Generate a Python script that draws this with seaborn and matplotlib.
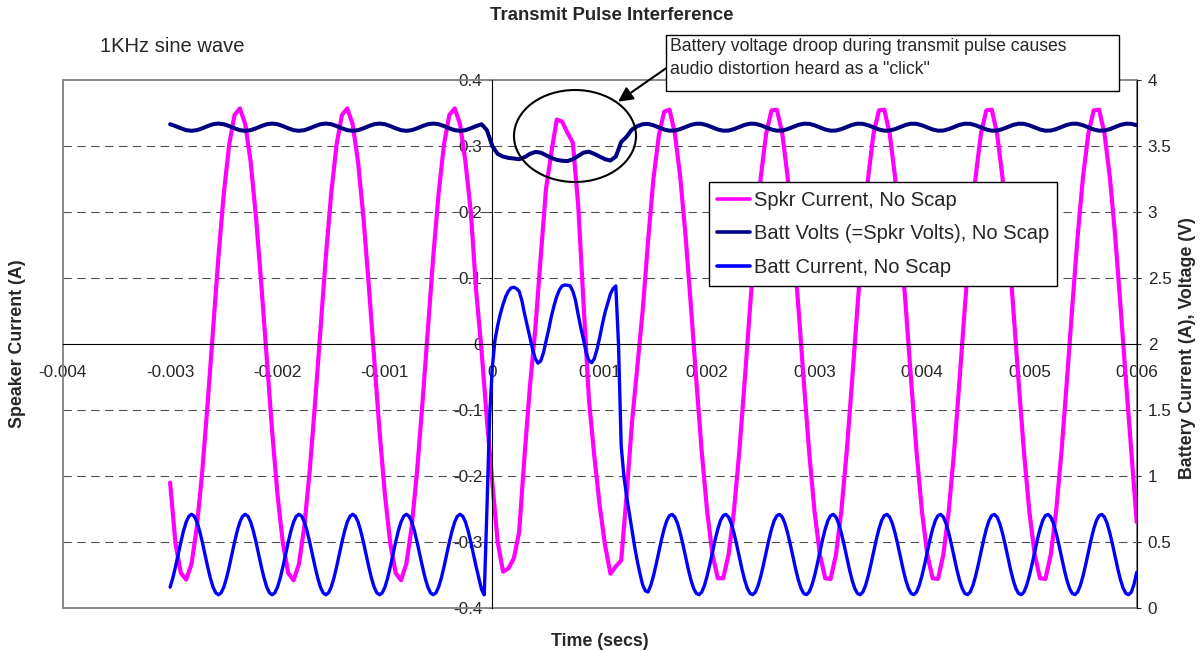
"""
Transmit Pulse Interference - speaker current, battery volts and battery current
around a transmit pulse (1 kHz sine wave playing), no supercap.
"""

import numpy as np
import matplotlib
matplotlib.use("Agg")
import matplotlib.pyplot as plt
from matplotlib.patches import Ellipse, Rectangle
from matplotlib.lines import Line2D
import seaborn as sns

sns.set_style("white")
plt.rcParams["font.family"] = ["Liberation Sans", "DejaVu Sans"]

T_START, T_END = -0.003, 0.006

# speaker current (A), sampled every 50 us from -0.003 s
spkr_current = [
    -0.21, -0.302, -0.347, -0.357, -0.333, -0.276, -0.192, -0.089, 0.022, 0.132,
    0.228, 0.302, 0.347, 0.357, 0.333, 0.276, 0.192, 0.089, -0.022, -0.132,
    -0.228, -0.302, -0.347, -0.358, -0.333, -0.276, -0.192, -0.089, 0.022, 0.132,
    0.228, 0.302, 0.347, 0.357, 0.333, 0.276, 0.192, 0.089, -0.022, -0.132,
    -0.228, -0.302, -0.347, -0.358, -0.333, -0.276, -0.192, -0.089, 0.022, 0.132,
    0.228, 0.302, 0.347, 0.357, 0.333, 0.276, 0.2, 0.08,
    -0.01, -0.115, -0.21, -0.3, -0.345, -0.34, -0.325, -0.285, -0.17, -0.065,
    0.022, 0.13, 0.235, 0.29, 0.34, 0.337, 0.32, 0.305, 0.21, 0.06,
    -0.085, -0.17, -0.245, -0.305, -0.348, -0.337, -0.328, -0.23, -0.12, -0.035,
    0.05, 0.155, 0.25, 0.315, 0.352, 0.355,
    0.319, 0.253, 0.163, 0.056, -0.056, -0.163, -0.253, -0.319, -0.355, -0.355,
    -0.319, -0.253, -0.163, -0.056,
    0.056, 0.163, 0.253, 0.319, 0.354, 0.355, 0.319, 0.253, 0.163, 0.056,
    -0.056, -0.163, -0.253, -0.319, -0.355, -0.356, -0.319, -0.253, -0.163, -0.056,
    0.056, 0.163, 0.253, 0.319, 0.354, 0.355, 0.319, 0.253, 0.163, 0.056,
    -0.056, -0.163, -0.253, -0.319, -0.355, -0.356, -0.319, -0.253, -0.163, -0.056,
    0.056, 0.163, 0.253, 0.319, 0.354, 0.355, 0.319, 0.253, 0.163, 0.056,
    -0.056, -0.163, -0.253, -0.319, -0.355, -0.356, -0.319, -0.253, -0.163, -0.056,
    0.056, 0.163, 0.253, 0.319, 0.354, 0.355, 0.319, 0.253, 0.163, 0.056,
    -0.056, -0.163, -0.27,
]

# battery volts (V), sampled every 50 us from -0.003 s
batt_volts = [
    3.665, 3.651, 3.634, 3.620, 3.615, 3.620, 3.634, 3.651, 3.665, 3.670,
    3.665, 3.651, 3.634, 3.620, 3.615, 3.620, 3.634, 3.651, 3.665, 3.670,
    3.665, 3.651, 3.634, 3.620, 3.615, 3.620, 3.634, 3.651, 3.665, 3.670,
    3.665, 3.651, 3.634, 3.620, 3.615, 3.620, 3.634, 3.651, 3.665, 3.670,
    3.665, 3.651, 3.634, 3.620, 3.615, 3.620, 3.634, 3.651, 3.665, 3.670,
    3.665, 3.651, 3.634, 3.620, 3.615, 3.620, 3.634, 3.651, 3.665,
    3.62, 3.50, 3.44, 3.42, 3.41, 3.405, 3.40, 3.415, 3.44, 3.455,
    3.45, 3.43, 3.41, 3.395, 3.388, 3.386, 3.40, 3.425, 3.45, 3.457,
    3.44, 3.42, 3.40, 3.39, 3.42, 3.53, 3.57, 3.625, 3.65, 3.665,
    3.668, 3.657, 3.641, 3.625, 3.616, 3.617, 3.628, 3.644, 3.660, 3.669,
    3.668, 3.657, 3.641, 3.625, 3.616, 3.617, 3.628, 3.644, 3.660, 3.669,
    3.668, 3.657, 3.641, 3.625, 3.616, 3.617, 3.628, 3.644, 3.660, 3.669,
    3.668, 3.657, 3.641, 3.625, 3.616, 3.617, 3.628, 3.644, 3.660, 3.669,
    3.668, 3.657, 3.641, 3.625, 3.616, 3.617, 3.628, 3.644, 3.660, 3.669,
    3.668, 3.657, 3.641, 3.625, 3.616, 3.617, 3.628, 3.644, 3.660, 3.669,
    3.668, 3.657, 3.641, 3.625, 3.616, 3.617, 3.628, 3.644, 3.660, 3.669,
    3.668, 3.657, 3.641, 3.625, 3.616, 3.617, 3.628, 3.644, 3.660, 3.669,
    3.668, 3.657, 3.641, 3.625, 3.616, 3.617, 3.628, 3.644, 3.660, 3.669,
    3.668, 3.657,
]

# battery current (A), sampled every 25 us from -0.003 s
batt_current = [
    0.158, 0.226, 0.311, 0.405, 0.499, 0.584, 0.652, 0.695, 0.710, 0.695,
    0.652, 0.584, 0.499, 0.405, 0.311, 0.226, 0.158, 0.115, 0.100, 0.115,
    0.158, 0.226, 0.311, 0.405, 0.499, 0.584, 0.652, 0.695, 0.710, 0.695,
    0.652, 0.584, 0.499, 0.405, 0.311, 0.226, 0.158, 0.115, 0.100, 0.115,
    0.158, 0.226, 0.311, 0.405, 0.499, 0.584, 0.652, 0.695, 0.710, 0.695,
    0.652, 0.584, 0.499, 0.405, 0.311, 0.226, 0.158, 0.115, 0.100, 0.115,
    0.158, 0.226, 0.311, 0.405, 0.499, 0.584, 0.652, 0.695, 0.710, 0.695,
    0.652, 0.584, 0.499, 0.405, 0.311, 0.226, 0.158, 0.115, 0.100, 0.115,
    0.158, 0.226, 0.311, 0.405, 0.499, 0.584, 0.652, 0.695, 0.710, 0.695,
    0.652, 0.584, 0.499, 0.405, 0.311, 0.226, 0.158, 0.115, 0.100, 0.115,
    0.158, 0.226, 0.311, 0.405, 0.499, 0.584, 0.652, 0.695, 0.710, 0.695,
    0.652, 0.584, 0.499, 0.405, 0.311, 0.226, 0.14,
    0.10, 0.75, 1.45, 1.82, 2.03, 2.14, 2.23, 2.30, 2.36, 2.40,
    2.425, 2.43, 2.42, 2.40, 2.33, 2.23, 2.14, 2.05, 1.96, 1.89,
    1.855, 1.87, 1.93, 2.02, 2.11, 2.21, 2.29, 2.36, 2.41, 2.44,
    2.447, 2.445, 2.44, 2.40, 2.33, 2.22, 2.12, 2.03, 1.93, 1.875,
    1.858, 1.89, 1.96, 2.05, 2.15, 2.24, 2.31, 2.38, 2.42, 2.44,
    2.0, 1.23, 1.0, 0.85, 0.72, 0.59, 0.465, 0.355, 0.26, 0.175, 0.13,
    0.121, 0.170, 0.242, 0.329, 0.424, 0.517, 0.599, 0.663, 0.700, 0.709,
    0.689, 0.640, 0.568, 0.481, 0.386, 0.293, 0.211, 0.148, 0.110, 0.101,
    0.121, 0.170, 0.242, 0.329, 0.424, 0.517, 0.599, 0.663, 0.700, 0.709,
    0.689, 0.640, 0.568, 0.481, 0.386, 0.293, 0.211, 0.148, 0.110, 0.101,
    0.121, 0.170, 0.242, 0.329, 0.424, 0.517, 0.599, 0.663, 0.700, 0.709,
    0.689, 0.640, 0.568, 0.481, 0.386, 0.293, 0.211, 0.148, 0.110, 0.101,
    0.121, 0.170, 0.242, 0.329, 0.424, 0.517, 0.599, 0.663, 0.700, 0.709,
    0.689, 0.640, 0.568, 0.481, 0.386, 0.293, 0.211, 0.148, 0.110, 0.101,
    0.121, 0.170, 0.242, 0.329, 0.424, 0.517, 0.599, 0.663, 0.700, 0.709,
    0.689, 0.640, 0.568, 0.481, 0.386, 0.293, 0.211, 0.148, 0.110, 0.101,
    0.121, 0.170, 0.242, 0.329, 0.424, 0.517, 0.599, 0.663, 0.700, 0.709,
    0.689, 0.640, 0.568, 0.481, 0.386, 0.293, 0.211, 0.148, 0.110, 0.101,
    0.121, 0.170, 0.242, 0.329, 0.424, 0.517, 0.599, 0.663, 0.700, 0.709,
    0.689, 0.640, 0.568, 0.481, 0.386, 0.293, 0.211, 0.148, 0.110, 0.101,
    0.121, 0.170, 0.242, 0.329, 0.424, 0.517, 0.599, 0.663, 0.700, 0.709,
    0.689, 0.640, 0.568, 0.481, 0.386, 0.293, 0.211, 0.148, 0.110, 0.101,
    0.121, 0.170, 0.242, 0.329, 0.424, 0.517, 0.599, 0.663, 0.700, 0.709,
    0.689, 0.640, 0.568, 0.481, 0.386, 0.293, 0.211, 0.148, 0.110, 0.101,
    0.121, 0.18, 0.27,
]

t_coarse = np.linspace(T_START, T_END, len(spkr_current))
t_fine = np.linspace(T_START, T_END, len(batt_current))

series_labels = [
    "Spkr Current, No Scap",
    "Batt Volts (=Spkr Volts), No Scap",
    "Batt Current, No Scap",
]
x_ticks = [-0.004, -0.003, -0.002, -0.001, 0, 0.001, 0.002, 0.003, 0.004, 0.005, 0.006]
x_tick_labels = ["-0.004", "-0.003", "-0.002", "-0.001", "0", "0.001",
                 "0.002", "0.003", "0.004", "0.005", "0.006"]
left_ticks = [-0.4, -0.3, -0.2, -0.1, 0, 0.1, 0.2, 0.3, 0.4]
left_tick_labels = ["-0.4", "-0.3", "-0.2", "-0.1", "0", "0.1", "0.2", "0.3", "0.4"]
right_ticks = [0, 0.5, 1, 1.5, 2, 2.5, 3, 3.5, 4]
right_tick_labels = ["0", "0.5", "1", "1.5", "2", "2.5", "3", "3.5", "4"]

PINK, NAVY, BLUE = "#FF00FF", "#000080", "#0000FF"

# ── Figure ──
W, H = 1202, 651
fig = plt.figure(figsize=(W / 100, H / 100), dpi=100)
ax = fig.add_axes([62.7 / W, 1 - 608 / H, 1074 / W, 528 / H])
ax2 = ax.twinx()

sns.lineplot(x=t_coarse, y=spkr_current, ax=ax, color=PINK, linewidth=3.0,
             estimator=None, sort=False)
sns.lineplot(x=t_coarse, y=batt_volts, ax=ax2, color=NAVY, linewidth=2.9,
             estimator=None, sort=False)
sns.lineplot(x=t_fine, y=batt_current, ax=ax2, color=BLUE, linewidth=2.4,
             estimator=None, sort=False)

ax.set_xlim(-0.004, 0.006)
ax.set_ylim(-0.4, 0.4)
ax2.set_ylim(0, 4)
ax.set_xlabel("")
ax.set_ylabel("")
ax2.set_ylabel("")

# dashed gridlines
for y in [-0.3, -0.2, -0.1, 0.1, 0.2, 0.3]:
    ax.axhline(y, color="#505050", lw=0.8, linestyle=(0, (7.5, 5)), zorder=0.6)

# axes cross at zero, grey plot-area border
ax.set_axisbelow(True)
ax.spines["left"].set_position(("data", 0))
ax.spines["bottom"].set_position(("data", 0))
for side in ["left", "bottom"]:
    ax.spines[side].set_color("black")
    ax.spines[side].set_linewidth(0.8)
ax.spines["top"].set_visible(False)
ax.spines["right"].set_visible(False)
ax.add_patch(Rectangle((0, 0), 1, 1, transform=ax.transAxes, fill=False,
                       edgecolor="#808080", lw=1.3, clip_on=False, zorder=0.7))
for side in ["left", "bottom", "top"]:
    ax2.spines[side].set_visible(False)
ax2.spines["right"].set_color("black")
ax2.spines["right"].set_linewidth(0.8)

ax.set_xticks(x_ticks, x_tick_labels)
ax.set_yticks(left_ticks, left_tick_labels)
ax2.set_yticks(right_ticks, right_tick_labels)
ax.tick_params(axis="x", direction="out", length=3, width=0.8, pad=12, labelsize=12.3)
ax.tick_params(axis="y", direction="out", length=3, width=0.8, pad=4, labelsize=12.3)
ax2.tick_params(axis="y", direction="out", length=3.2, width=0.8, pad=4.8, labelsize=12.3)

# ── Texts ──
fig.text(490 / W, 1 - 15 / H, "Transmit Pulse Interference", ha="left", va="center",
         fontsize=13.4, fontweight="bold")
fig.text(100 / W, 1 - 46.7 / H, "1KHz sine wave", ha="left", va="center", fontsize=14.5)
fig.text(600 / W, 1 - 641 / H, "Time (secs)", ha="center", va="center",
         fontsize=12.8, fontweight="bold")
fig.text(18 / W, 1 - 344 / H, "Speaker Current (A)", rotation=90, ha="center",
         va="center", fontsize=12.8, fontweight="bold")
fig.text(1187 / W, 1 - 348 / H, "Battery Current (A), Voltage (V)", rotation=90,
         ha="center", va="center", fontsize=12.8, fontweight="bold")

# annotation box, arrow and ellipse
fig.add_artist(Rectangle((666 / W, 1 - 91 / H), 452.6 / W, 56 / H, transform=fig.transFigure,
                         facecolor="white", edgecolor="black", lw=1.0))
fig.text(670.4 / W, 1 - 46.7 / H, "Battery voltage droop during transmit pulse causes",
         ha="left", va="center", fontsize=12.7)
fig.text(670.4 / W, 1 - 69.3 / H, 'audio distortion heard as a "click"',
         ha="left", va="center", fontsize=12.7)
ax.annotate("", xy=(618, H - 101.7), xytext=(666, H - 68.3),
            xycoords="figure pixels", textcoords="figure pixels",
            arrowprops=dict(arrowstyle="-|>", color="black", lw=1.5,
                            mutation_scale=22, shrinkA=0, shrinkB=0))
fig.add_artist(Ellipse((575 / W, 1 - 136 / H), 122 / W, 92 / H, transform=fig.transFigure,
                       fill=False, edgecolor="black", lw=1.5))

# legend
handles = [Line2D([], [], color=c, lw=2.6) for c in [PINK, NAVY, BLUE]]
leg = ax2.legend(handles, series_labels, loc="upper left",
                 bbox_to_anchor=(709 / W, 1 - 182.3 / H), bbox_transform=fig.transFigure,
                 frameon=True, fancybox=False, edgecolor="black", framealpha=1,
                 fontsize=14.5, handlelength=1.6, handletextpad=0.2,
                 borderpad=0.42, labelspacing=0.73, borderaxespad=0)
leg.get_frame().set_linewidth(1.0)

fig.savefig("out.png", dpi=100)
plt.close()
